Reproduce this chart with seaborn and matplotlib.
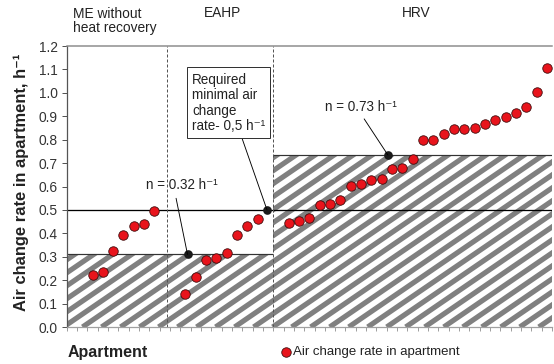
import numpy as np
import pandas as pd
import matplotlib
matplotlib.use("Agg")
import matplotlib.pyplot as plt
import matplotlib.transforms as mtransforms
from matplotlib.collections import LineCollection
import seaborn as sns

# Measured air change rates (h^-1), sorted within each system type
me_pos = [2, 3, 4, 5, 6, 7, 8]
me_rate = [0.22, 0.235, 0.325, 0.395, 0.43, 0.44, 0.497]
eahp_pos = [11, 12, 13, 14, 15, 16, 17, 18]
eahp_rate = [0.14, 0.215, 0.285, 0.295, 0.318, 0.395, 0.43, 0.462]
hrv_pos = list(range(21, 47))
hrv_rate = [0.444, 0.452, 0.467, 0.521, 0.526, 0.541, 0.604, 0.61, 0.628, 0.63,
            0.675, 0.679, 0.719, 0.798, 0.799, 0.825, 0.845, 0.846, 0.85, 0.866,
            0.885, 0.897, 0.913, 0.939, 1.004, 1.107]

# mean levels per zone and the required minimum
group_names = ["ME without\nheat recovery", "EAHP", "HRV"]
group_edges = [-0.5, 19.5, 46.5]
mean_levels = [0.31, 0.735]
divider_x = [9.18, 19.5]
required_rate = 0.5

# black marker points for the annotations
mark_x = [11.2, 30.6, 18.9]
mark_y = [0.31, 0.735, 0.50]

df = pd.DataFrame({
    "apartment": me_pos + eahp_pos + hrv_pos,
    "rate": me_rate + eahp_rate + hrv_rate,
})

sns.set_theme(style="ticks")
plt.rcParams["font.family"] = ["Liberation Sans", "DejaVu Sans"]

fig = plt.figure(figsize=(554 / 72, 364 / 72), dpi=72)
ax = fig.add_axes([0.1204, 0.1016, 0.876, 0.772])

# hatched zones under the mean level: white fill + slanted gray stripes clipped to it
ax_w, ax_h = 485.0, 281.0          # axes size in px
step_x, rise = 19.0, 13.0          # stripe repeat (px) and slope in px
run = ax_h * step_x / rise / ax_w  # horizontal run of one stripe over full height (axes frac)
offs = np.arange(-run - 0.1, 1.1, step_x / ax_w)
stripe_segs = [[(o, 0), (o + run, 1)] for o in offs]

for x0, x1, lev in zip(group_edges[:-1], group_edges[1:], mean_levels):
    zone = ax.fill_between([x0, x1], 0, lev, facecolor="white", linewidth=0, zorder=1)
    lc = LineCollection(stripe_segs, colors="#808080", linewidths=5.2,
                        transform=ax.transAxes, zorder=1.5, capstyle="butt")
    lc.set_clip_path(zone.get_paths()[0], ax.transData)
    ax.add_collection(lc, autolim=False)
    ax.hlines(lev, x0, x1, color="#333333", lw=1.2, zorder=2)

ax.axhline(required_rate, color="black", lw=1.3, zorder=2)
for xv in divider_x:
    ax.axvline(xv, color="#555555", lw=1, ls=(0, (3, 2)), zorder=2)

sns.scatterplot(data=df, x="apartment", y="rate", color="#e8141c",
                edgecolor="#3a0a0a", linewidth=0.8, s=90,
                label="Air change rate in apartment", ax=ax, zorder=5)
ax.scatter(mark_x, mark_y, color="#1a1a1a", s=75, zorder=6, linewidths=0)

ax.set_xlim(group_edges[0], group_edges[-1])
ax.set_ylim(0, 1.2)
ax.set_yticks(np.arange(0, 1.21, 0.1))
ax.set_yticklabels([f"{v:.1f}" for v in np.arange(0, 1.21, 0.1)])
ax.set_xticks(np.arange(group_edges[0], group_edges[-1] + 0.1, 1))
ax.set_xticklabels([])
ax.set_xlabel("")
ax.tick_params(axis="x", length=4, color="#a0a0a0", width=1)
ax.tick_params(axis="y", length=5, color="#555555", width=1, pad=4,
               labelsize=13.8, labelcolor="#333333")

for side in ["top", "left", "bottom"]:
    ax.spines[side].set_visible(True)
ax.spines["right"].set_visible(False)
ax.spines["top"].set_color("#8c8c8c")
ax.spines["top"].set_linewidth(1.5)
ax.spines["left"].set_color("#555555")
ax.spines["bottom"].set_color("#a0a0a0")

ax.set_ylabel("Air change rate in apartment, h⁻¹", fontsize=16.5,
              fontweight="bold", color="#222222")
ax.yaxis.set_label_coords(-0.077, 0.515)

# zone titles above the plot
trans = mtransforms.blended_transform_factory(ax.transData, ax.transAxes)
ax.annotate(group_names[0], xy=(0.1, 1), xycoords=trans, xytext=(0, 25),
            textcoords="offset points", ha="left", va="center", fontsize=13.8,
            color="#222222", linespacing=1.05)
ax.annotate(group_names[1], xy=(14.6, 1), xycoords=trans, xytext=(0, 33),
            textcoords="offset points", ha="center", va="center", fontsize=13.8,
            color="#222222")
ax.annotate(group_names[2], xy=(33.3, 1), xycoords=trans, xytext=(0, 33),
            textcoords="offset points", ha="center", va="center", fontsize=13.8,
            color="#222222")

# callouts
ax.annotate("n = 0.32 h⁻¹", xy=(mark_x[0], mark_y[0]), xytext=(10.66, 0.607),
            ha="center", va="center", fontsize=13.5, color="#222222",
            arrowprops=dict(arrowstyle="-", color="black", lw=0.9,
                            relpos=(0.4, 0), shrinkA=4, shrinkB=0), zorder=7)
ax.annotate("n = 0.73 h⁻¹", xy=(mark_x[1], mark_y[1]), xytext=(27.99, 0.94),
            ha="center", va="center", fontsize=13.5, color="#222222",
            arrowprops=dict(arrowstyle="-", color="black", lw=0.9,
                            relpos=(0.5, 0), shrinkA=3, shrinkB=0), zorder=7)
ax.annotate("Required\nminimal air\nchange\nrate- 0,5 h⁻¹", xy=(mark_x[2], mark_y[2]),
            xytext=(11.63, 0.957), ha="left", va="center", fontsize=13.5,
            color="#222222", linespacing=1.13,
            bbox=dict(boxstyle="square,pad=0.4", fc="white", ec="#333333", lw=1),
            arrowprops=dict(arrowstyle="-", color="black", lw=0.9,
                            relpos=(0.66, 0), shrinkA=0, shrinkB=0), zorder=7)

fig.text(68 / 554, 1 - 352 / 364, "Apartment", fontsize=16, fontweight="bold",
         color="#222222", ha="left", va="center")

ax.legend(loc="center left", bbox_to_anchor=(280.8 / 554, 1 - 352 / 364),
          bbox_transform=fig.transFigure, frameon=False, fontsize=13.3,
          handlelength=0.8, handletextpad=0.15, borderpad=0, borderaxespad=0,
          labelcolor="#222222")

fig.savefig("out.png", dpi=72)
